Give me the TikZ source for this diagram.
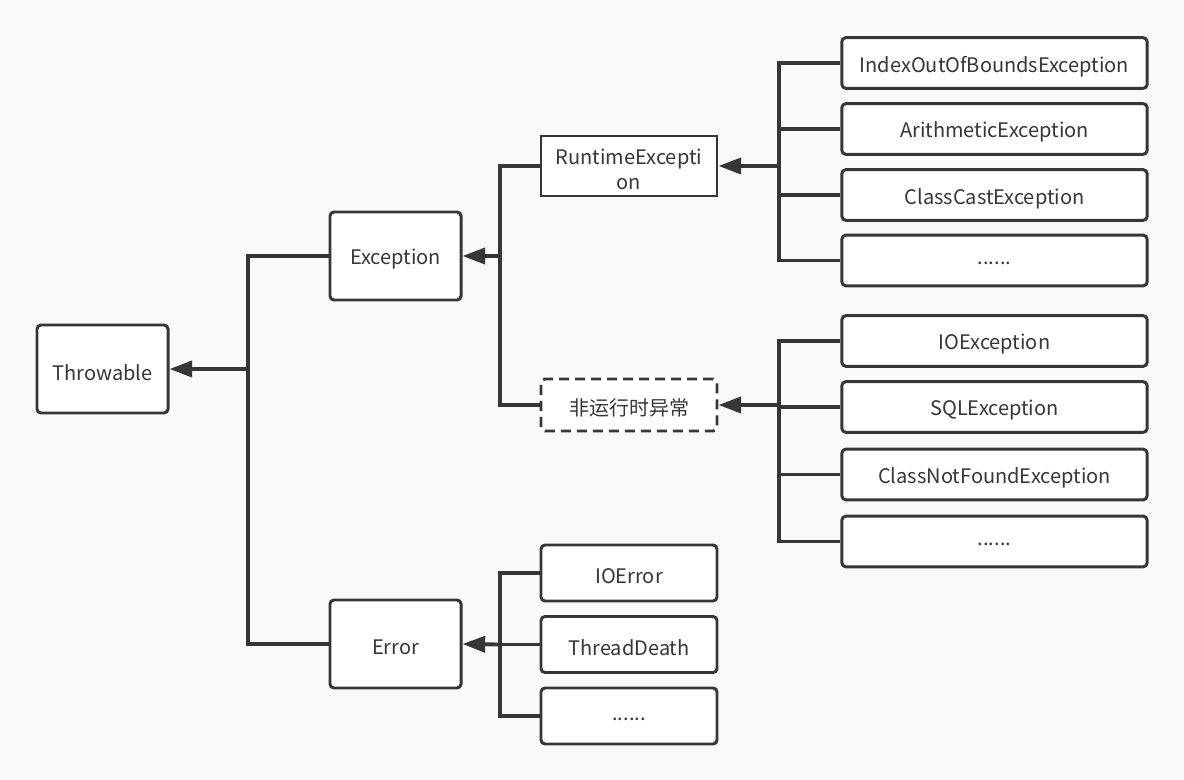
\documentclass[tikz,border=0pt]{standalone}
\usepackage{fontspec}
\setmainfont{Noto Sans CJK SC}
\usetikzlibrary{arrows.meta}
\definecolor{ink}{HTML}{363636}
\definecolor{bg}{HTML}{F9F9F9}
\newcommand{\lbl}[1]{\raisebox{-2.5pt}[\height][\depth]{#1}}
\begin{document}
\begin{tikzpicture}[x=0.75pt,y=-0.75pt,
  box/.style={draw=ink,line width=2.2pt,fill=white,rounded corners=3pt,inner sep=0pt,align=center,font=\fontsize{15}{19}\selectfont,text=ink},
  conn/.style={draw=ink,line width=2.4pt},
  arr/.style={draw=ink,line width=2.9pt,-{Triangle[length=17pt,width=12pt]}}]
\fill[bg] (0,0) rectangle (1184,780);
\useasboundingbox (0,0) rectangle (1184,780);
% nodes
\node[box,minimum width=98.3pt,minimum height=66pt] (thr) at (102.5,369) {\lbl{Throwable}};
\node[box,minimum width=98.3pt,minimum height=66pt] (exc) at (395.5,256) {\lbl{Exception}};
\node[box,minimum width=98.3pt,minimum height=66pt] (err) at (395.5,644) {\lbl{Error}};
\node[box,rounded corners=0pt,minimum width=132pt,minimum height=45pt] (rte) at (629,166) {\lbl{RuntimeExcepti}\\\lbl{on}};
\node[box,dashed,dash pattern=on 7.5pt off 4.5pt,minimum width=132pt,minimum height=39pt] (nre) at (629,405) {\lbl{非运行时异常}};
\node[box,minimum width=229pt,minimum height=38pt] (r1) at (994.5,63) {\lbl{IndexOutOfBoundsException}};
\node[box,minimum width=229pt,minimum height=38pt] (r2) at (994.5,129) {\lbl{ArithmeticException}};
\node[box,minimum width=229pt,minimum height=38pt] (r3) at (994.5,195) {\lbl{ClassCastException}};
\node[box,minimum width=229pt,minimum height=38pt] (r4) at (994.5,260.5) {\lbl{......}};
\node[box,minimum width=229pt,minimum height=38pt] (n1) at (994.5,341) {\lbl{IOException}};
\node[box,minimum width=229pt,minimum height=38pt] (n2) at (994.5,407) {\lbl{SQLException}};
\node[box,minimum width=229pt,minimum height=38pt] (n3) at (994.5,474.5) {\lbl{ClassNotFoundException}};
\node[box,minimum width=229pt,minimum height=38pt] (n4) at (994.5,541.5) {\lbl{......}};
\node[box,minimum width=132pt,minimum height=42pt] (e1) at (629,573) {\lbl{IOError}};
\node[box,minimum width=132pt,minimum height=42pt] (e2) at (629,644.5) {\lbl{ThreadDeath}};
\node[box,minimum width=132pt,minimum height=42pt] (e3) at (629,716) {\lbl{......}};
% junction coordinates
\coordinate (jt) at (248,369);
\coordinate (je) at (500,256);
\coordinate (jr) at (779,166);
\coordinate (jn) at (779,405);
\coordinate (jerr) at (500,644.5);
% Throwable tree
\draw[conn] (exc.west) -| (jt) |- (err.west);
\draw[arr] (jt) -- (thr.east);
% Exception tree
\draw[conn] (rte.west) -| (je) |- (nre.west);
\draw[arr] (je) -- (exc.east);
% RuntimeException tree
\draw[conn] (r1.west) -| (jr) |- (r4.west);
\draw[conn] (jr |- r2.west) -- (r2.west);
\draw[conn] (jr |- r3.west) -- (r3.west);
\draw[arr] (jr) -- (rte.east);
% non-runtime tree
\draw[conn] (n1.west) -| (jn) |- (n4.west);
\draw[conn] (jn |- n2.west) -- (n2.west);
\draw[conn] (jn |- n3.west) -- (n3.west);
\draw[arr] (jn) -- (nre.east);
% Error tree
\draw[conn] (e1.west) -| (jerr) |- (e3.west);
\draw[conn] (jerr) -- (e2.west);
\draw[arr] (jerr) -- (err.east);
\end{tikzpicture}
\end{document}
